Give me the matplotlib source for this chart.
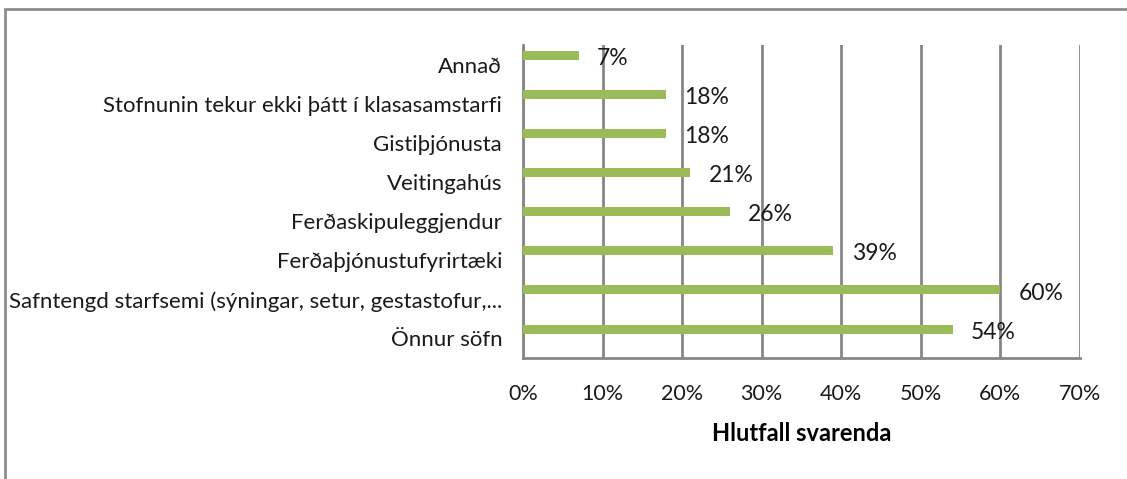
import matplotlib.pyplot as plt
from matplotlib.patches import Rectangle

# Gögn
flokkar = ['Önnur söfn',
           'Safntengd starfsemi (sýningar, setur, gestastofur,...',
           'Ferðaþjónustufyrirtæki',
           'Ferðaskipuleggjendur',
           'Veitingahús',
           'Gistiþjónusta',
           'Stofnunin tekur ekki þátt í klasasamstarfi',
           'Annað']
hlutfall = [54, 60, 39, 26, 21, 18, 18, 7]
x_merki = [0, 10, 20, 30, 40, 50, 60, 70]

plt.rcParams['font.family'] = ['Lato', 'DejaVu Sans']

fig = plt.figure(figsize=(11.27, 4.79), dpi=100)
ax = fig.add_axes([523 / 1127, 1 - 358 / 479, 557 / 1127, 313 / 479])

graent = '#9bbb59'
grátt = '#868686'

y = list(range(len(flokkar)))
ax.barh([i + 0.24 for i in y], hlutfall, height=0.23, color=graent, zorder=3)

# Gildi við enda hverrar súlu
for i, v in enumerate(hlutfall):
    ax.text(v + 2.3, i + 0.16, f'{v}%', va='center', ha='left', fontsize=16.5, color='#1a1a1a', zorder=4)

ax.set_xlim(0, 70)
ax.set_ylim(-0.5, len(flokkar) - 0.5)
ax.set_xticks(x_merki)
ax.set_xticklabels([f'{t}%' for t in x_merki], fontsize=15.5)
ax.set_yticks(y)
ax.set_yticklabels(flokkar, fontsize=16)
ax.tick_params(axis='both', length=0, colors='#1a1a1a')
ax.tick_params(axis='x', pad=19)
ax.tick_params(axis='y', pad=15)

ax.grid(axis='x', color=grátt, linewidth=2, zorder=0)
for s in ['top', 'right']:
    ax.spines[s].set_visible(False)
for s in ['left', 'bottom']:
    ax.spines[s].set_color(grátt)
    ax.spines[s].set_linewidth(2)

ax.set_xlabel('Hlutfall svarenda', fontsize=17, fontweight='bold', labelpad=13)

# Rammi utan um myndina
fig.patches.append(Rectangle((5 / 1127, -0.1), 1.2, 1 - 9 / 479 + 0.1, transform=fig.transFigure,
                             fill=False, edgecolor='#8c8c8c', linewidth=2))

plt.savefig('out.png', dpi=100)
